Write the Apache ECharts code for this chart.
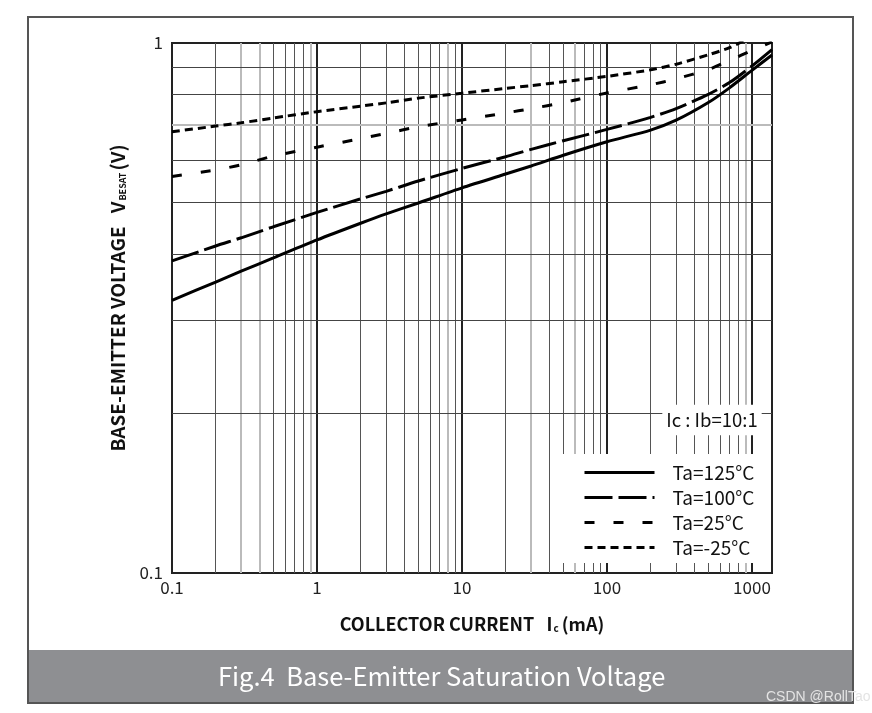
<!DOCTYPE html>
<html><head><meta charset="utf-8">
<script src="https://cdn.jsdelivr.net/npm/echarts@6/dist/echarts.min.js"></script>
<style>html,body{margin:0;padding:0;background:#fff}#c{width:872px;height:713px}</style>
</head><body><div id="c"></div>
<script>
// ---- data ----
const currents = [0.1, 0.2, 0.3, 0.5, 1, 2, 3, 5, 10, 20, 30, 50, 100, 200, 300, 500, 700, 1000, 1375];
const v125 = [0.327, 0.354, 0.371, 0.393, 0.425, 0.457, 0.476, 0.499, 0.533, 0.566, 0.586, 0.614, 0.651, 0.685, 0.715, 0.772, 0.823, 0.888, 0.949];
const v100 = [0.388, 0.414, 0.429, 0.450, 0.479, 0.508, 0.525, 0.549, 0.580, 0.610, 0.630, 0.654, 0.687, 0.724, 0.752, 0.800, 0.842, 0.905, 0.972];
const v25  = [0.560, 0.576, 0.589, 0.612, 0.636, 0.660, 0.675, 0.695, 0.716, 0.738, 0.752, 0.772, 0.805, 0.834, 0.856, 0.891, 0.927, 0.968, 1.005];
const vm25 = [0.680, 0.697, 0.707, 0.722, 0.742, 0.760, 0.771, 0.787, 0.804, 0.821, 0.831, 0.845, 0.865, 0.890, 0.912, 0.950, 0.980, 1.030, 1.080];
const seriesNames = ['Ta=125°C', 'Ta=100°C', 'Ta=25°C', 'Ta=-25°C'];
const xMin = 0.1, xMax = 1375, yMin = 0.1, yMax = 1;
const xMinorGrid = [0.2,0.3,0.4,0.5,0.6,0.7,0.8,0.9, 2,3,4,5,6,7,8,9, 20,30,40,50,60,70,80,90, 200,300,400,500,600,700,800,900];
const xLightGrid = [0.3, 0.4, 0.9, 8, 30, 60, 900];
const yMinorGrid = [0.2,0.3,0.4,0.5,0.6,0.7,0.8,0.9];
const yLightGrid = [0.7];
const ratioText = 'Ic : Ib=10:1';
const captionText = 'Fig.4  Base-Emitter Saturation Voltage';
const watermarkText = 'CSDN @RollTao';

const FONT = 'Noto Sans CJK SC';
const pairs = arr => currents.map((c, i) => [c, arr[i]]);

const gridLines = [];
xMinorGrid.forEach(v => {
  const light = xLightGrid.includes(v);
  gridLines.push({ xAxis: v, lineStyle: { color: light ? '#bbbbbb' : '#555555', width: light ? 2 : 1, type: 'solid' } });
});
yMinorGrid.forEach(v => {
  const light = yLightGrid.includes(v);
  gridLines.push({ yAxis: v, lineStyle: { color: light ? '#bbbbbb' : '#444444', width: light ? 2 : 1, type: 'solid' } });
});

const chart = echarts.init(document.getElementById('c'), null, { renderer: 'canvas' });
const curveBase = { type: 'line', showSymbol: false, symbol: 'none', smooth: 0.25, z: 5, silent: true, clip: true };

chart.setOption({
  animation: false,
  backgroundColor: '#fff',
  grid: { left: 172, top: 43, width: 600, height: 530, show: true, borderColor: '#222', borderWidth: 2, backgroundColor: 'transparent' },
  xAxis: {
    type: 'log', logBase: 10, min: xMin, max: xMax,
    axisLine: { show: true, lineStyle: { color: '#222', width: 2 } },
    axisTick: { show: false },
    splitLine: { show: true, lineStyle: { color: '#222', width: 2 } },
    axisLabel: { fontFamily: FONT, fontSize: 17, color: '#222', margin: 6, showMaxLabel: false, formatter: v => String(v) },
    name: '{b|COLLECTOR CURRENT   I}{s|c}{b|(mA)}',
    nameLocation: 'middle', nameGap: 42,
    nameTextStyle: { rich: {
      b: { fontFamily: FONT, fontSize: 18, fontWeight: 'bold', color: '#111' },
      s: { fontFamily: FONT, fontSize: 10, fontWeight: 'bold', color: '#111', verticalAlign: 'bottom', padding: [0, 3, 0, 1] }
    } }
  },
  yAxis: {
    type: 'log', logBase: 10, min: yMin, max: yMax,
    axisLine: { show: true, lineStyle: { color: '#222', width: 2 } },
    axisTick: { show: false },
    splitLine: { show: false },
    axisLabel: { fontFamily: FONT, fontSize: 17, color: '#222', margin: 9, formatter: v => String(v) }
  },
  legend: {
    data: seriesNames, orient: 'vertical', left: 558, top: 456, zlevel: 1, z: 6,
    padding: [7, 14, 7, 25],
    itemWidth: 70, itemHeight: 14, itemGap: 6, selectedMode: false,
    lineStyle: { width: 3 },
    itemStyle: { color: 'rgba(0,0,0,0)', borderColor: 'rgba(0,0,0,0)', borderWidth: 0, opacity: 0 },
    textStyle: { fontFamily: FONT, fontSize: 19, color: '#111', padding: [0, 0, 0, 13] }
  },
  series: [
    { type: 'line', name: 'grid', data: [], z: 1, silent: true,
      markLine: { silent: true, symbol: 'none', label: { show: false }, animation: false, data: gridLines } },
    Object.assign({}, curveBase, { name: seriesNames[0], data: pairs(v125), lineStyle: { color: '#000', width: 3, type: 'solid' }, itemStyle: { color: '#000' } }),
    Object.assign({}, curveBase, { name: seriesNames[1], data: pairs(v100), lineStyle: { color: '#000', width: 3, type: [28, 6] }, itemStyle: { color: '#000' } }),
    Object.assign({}, curveBase, { name: seriesNames[2], data: pairs(v25),  lineStyle: { color: '#000', width: 3, type: [10, 19] }, itemStyle: { color: '#000' } }),
    Object.assign({}, curveBase, { name: seriesNames[3], data: pairs(vm25), lineStyle: { color: '#000', width: 3, type: [8, 5] }, itemStyle: { color: '#000' } })
  ],
  graphic: [
    { type: 'rect', z: 0, shape: { x: 28, y: 650, width: 825, height: 53 }, style: { fill: '#8e8f92' } },
    { type: 'rect', z: 1, shape: { x: 28, y: 17, width: 825, height: 686 }, style: { fill: 'none', stroke: '#555', lineWidth: 2 } },
    { type: 'rect', zlevel: 1, z: 2, shape: { x: 557, y: 454, width: 214, height: 109 }, style: { fill: '#fff' } },
    { type: 'text', z: 2, x: 218, y: 676, style: { text: captionText, fill: '#fff', font: '25.5px "' + FONT + '"', align: 'left', verticalAlign: 'middle' } },
    { type: 'text', z: 3, x: 766, y: 697, style: { text: watermarkText, fill: '#e4e4e4', font: '14px "Liberation Sans"', align: 'left', verticalAlign: 'middle' } },
    { type: 'text', zlevel: 1, z: 100, x: 712, y: 420, style: { text: ratioText, fill: '#111', font: '18.5px "' + FONT + '"', align: 'center', verticalAlign: 'middle', backgroundColor: '#fff', padding: [6, 4] } },
    { type: 'text', z: 100, x: 118, y: 298, rotation: Math.PI / 2,
      style: { text: '{b|BASE-EMITTER VOLTAGE   V}{s|BESAT}{b|(V)}', align: 'center', verticalAlign: 'middle',
        rich: {
          b: { fontFamily: FONT, fontSize: 19, fontWeight: 'bold', fill: '#111' },
          s: { fontFamily: FONT, fontSize: 9, fontWeight: 'bold', fill: '#111', verticalAlign: 'bottom', padding: [0, 2, 0, 1] }
        } } }
  ]
});
</script>
</body></html>
